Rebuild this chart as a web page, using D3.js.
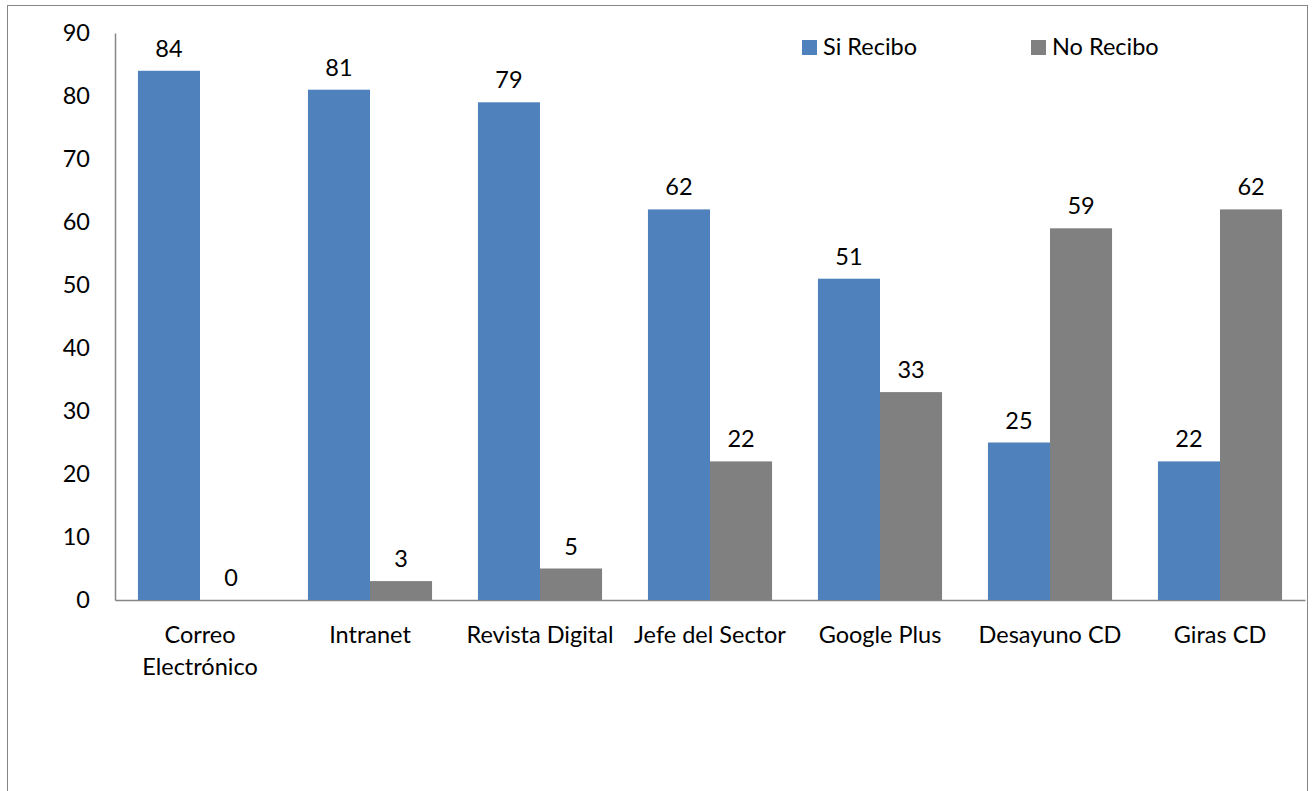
<!DOCTYPE html>
<html>
<head>
<meta charset="utf-8">
<script src="https://cdn.jsdelivr.net/npm/d3@7"></script>
<style>
  html, body { margin: 0; padding: 0; background: #fff; }
  svg text { font-family: Lato, "Open Sans", sans-serif; fill: #000; }
</style>
</head>
<body>
<svg id="chart" width="1314" height="791"></svg>
<script>
// Communication channels and responses
const categories = [["Correo", "Electrónico"], ["Intranet"], ["Revista Digital"], ["Jefe del Sector"], ["Google Plus"], ["Desayuno CD"], ["Giras CD"]];
const seriesNames = ["Si Recibo", "No Recibo"];
const siRecibo = [84, 81, 79, 62, 51, 25, 22];
const noRecibo = [0, 3, 5, 22, 33, 59, 62];
const yTicks = [0, 10, 20, 30, 40, 50, 60, 70, 80, 90];
const colors = ["#4F81BD", "#808080"];

const svg = d3.select("#chart");
const fontSize = 23.5;

// Outer chart frame
svg.append("rect")
  .attr("x", 7.5).attr("y", 5.5)
  .attr("width", 1300).attr("height", 800)
  .attr("fill", "none").attr("stroke", "#868686").attr("stroke-width", 1);

const x0 = d3.scaleBand().domain(d3.range(categories.length)).range([115, 1305]).paddingInner(0.27).paddingOuter(0.135);
const x1 = d3.scaleBand().domain([0, 1]).range([0, x0.bandwidth()]);
const y = d3.scaleLinear().domain([0, 90]).range([600, 33]);

// Y axis
const yAxis = d3.axisLeft(y).tickValues(yTicks).tickSize(0).tickPadding(25);
const gy = svg.append("g").attr("transform", "translate(115,0)").call(yAxis);
gy.select(".domain").attr("stroke", "#868686").attr("stroke-width", 1.5);
gy.selectAll("text").attr("font-size", fontSize).style("font-family", "Lato, 'Open Sans', sans-serif").attr("fill", "#000");

// X axis baseline
const xAxis = d3.axisBottom(d3.scaleLinear().range([115, 1305])).tickValues([]).tickSizeOuter(0);
const gx = svg.append("g").attr("transform", "translate(0,600)").call(xAxis);
gx.select(".domain").attr("stroke", "#868686").attr("stroke-width", 1.5);

const series = [siRecibo, noRecibo];
const groups = svg.append("g").selectAll("g")
  .data(categories.map((c, i) => ({ i, values: series.map(s => s[i]) })))
  .join("g")
  .attr("transform", d => `translate(${x0(d.i)},0)`);

groups.selectAll("rect")
  .data(d => d.values.map((v, k) => ({ v, k })))
  .join("rect")
  .attr("x", d => x1(d.k))
  .attr("width", x1.bandwidth())
  .attr("y", d => y(d.v))
  .attr("height", d => y(0) - y(d.v))
  .attr("fill", d => colors[d.k]);

groups.selectAll("text.val")
  .data(d => d.values.map((v, k) => ({ v, k })))
  .join("text")
  .attr("class", "val")
  .attr("x", d => x1(d.k) + x1.bandwidth() / 2)
  .attr("y", d => y(d.v) - 14)
  .attr("text-anchor", "middle")
  .attr("font-size", fontSize)
  .text(d => d.v);

// Category labels
svg.append("g").selectAll("text")
  .data(categories)
  .join("text")
  .attr("x", (d, i) => x0(i) + x0.bandwidth() / 2)
  .attr("y", 643)
  .attr("text-anchor", "middle")
  .attr("font-size", fontSize)
  .each(function (d) {
    d3.select(this).selectAll("tspan").data(d).join("tspan")
      .attr("x", d3.select(this).attr("x"))
      .attr("dy", (t, j) => j === 0 ? 0 : 32)
      .text(t => t);
  });

// Legend
const legendX = [802, 1031];
const legend = svg.append("g").selectAll("g").data(seriesNames).join("g")
  .attr("transform", (d, i) => `translate(${legendX[i]},40)`);
legend.append("rect").attr("width", 15).attr("height", 15).attr("fill", (d, i) => colors[i]);
legend.append("text").attr("x", 21).attr("y", 14.5).attr("font-size", fontSize).text(d => d);
</script>
</body>
</html>
